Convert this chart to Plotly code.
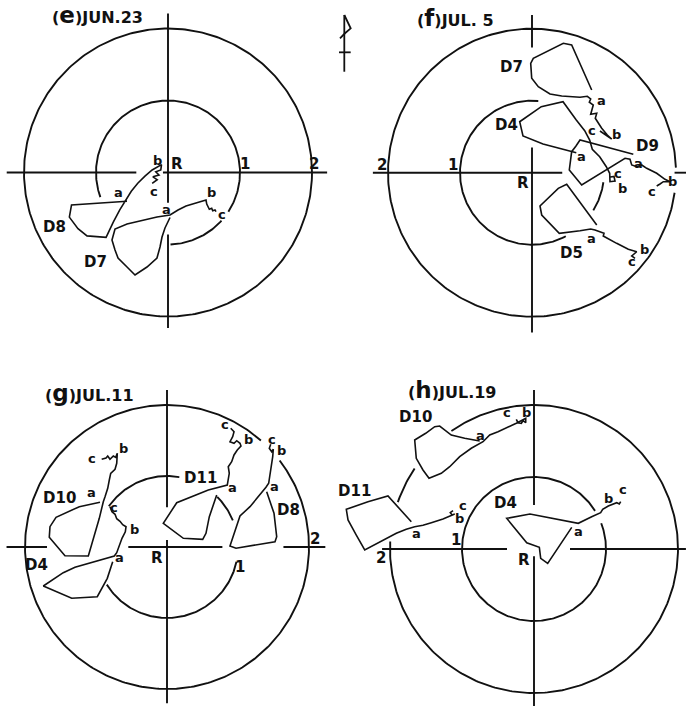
import numpy as np
import plotly.graph_objects as go

W, H = 686, 708
INK = "#111111"
FONT = "DejaVu Sans"

# ---------------- (e) JUN.23 ----------------
E_D8_X = [-0.22, -0.15, -0.21, -0.125, -0.17, -0.10, -0.09, -0.22, -0.32, -0.42, -0.51, -0.58,
          -0.67, -0.76, -0.86, -1.125, -1.25, -1.37, -1.34, -0.57]
E_D8_Y = [-0.15, -0.10, -0.06, -0.035, 0.01, 0.035, 0.11, 0.035, -0.05, -0.15, -0.26, -0.37,
          -0.52, -0.69, -0.90, -0.88, -0.78, -0.62, -0.45, -0.40]
E_D7_X = [0.667, 0.653, 0.621, 0.607, 0.574, 0.56, 0.538, 0.528, 0.389, 0.25, 0.139, 0.028,
          -0.153, -0.347, -0.569, -0.736, -0.778, -0.736, -0.694, -0.569, -0.458, -0.292,
          -0.153, -0.111, -0.083, -0.042, 0.028]
E_D7_Y = [-0.544, -0.521, -0.531, -0.497, -0.511, -0.475, -0.438, -0.382, -0.424, -0.465,
          -0.521, -0.59, -0.618, -0.66, -0.715, -0.785, -0.938, -1.076, -1.188, -1.313,
          -1.424, -1.313, -1.188, -1.035, -0.896, -0.77, -0.625]
E_LABELS = ["D8", "a", "b", "c", "D7", "a", "b", "c", "R", "1", "2"]
E_LX = [-1.57, -0.69, -0.14, -0.19, -1.01, -0.02, 0.61, 0.75, 0.125, 1.07, 2.03]
E_LY = [-0.76, -0.28, 0.17, -0.27, -1.24, -0.51, -0.28, -0.58, 0.12, 0.12, 0.12]

# ---------------- (f) JUL. 5 ----------------
F_D7_X = [0.829, 0.551, 0.435, 0.018, -0.018, -0.004, 0.0875, 0.25, 0.4125, 0.667, 0.768,
          0.815, 0.796, 0.851, 0.815, 0.899, 0.879, 0.968, 1.046, 1.107, 0.944]
F_D7_Y = [1.149, 1.774, 1.797, 1.589, 1.519, 1.311, 1.194, 1.093, 1.065, 1.047, 1.061,
          1.024, 0.978, 0.940, 0.811, 0.825, 0.756, 0.617, 0.524, 0.468, 0.579]
F_D4_X = [0.615, 0.3375, 0.153, -0.125, -0.171, 0.129, 0.431, 0.615, 0.732, 0.801, 0.8375,
          0.940, 1.032, 1.079, 1.083, 1.153, 1.139, 1.09]
F_D4_Y = [0.278, 0.353, 0.399, 0.51, 0.708, 0.917, 0.986, 0.732, 0.583, 0.454, 0.325,
          0.222, 0.083, -0.008, -0.125, -0.115, -0.053, -0.06]
F_D9_X = [1.407, 0.667, 0.611, 0.551, 0.518, 0.690, 1.292, 1.361, 1.385, 1.454, 1.524,
          1.593, 1.732, 1.847, 1.917, 1.824, 1.778, 1.732]
F_D9_Y = [0.256, 0.454, 0.371, 0.292, 0.0375, -0.171, 0.2, 0.186, 0.107, 0.083, 0.107,
          0.061, -0.008, -0.092, -0.125, -0.125, -0.157, -0.185]
F_D5_X = [0.899, 0.482, 0.365, 0.111, 0.135, 0.25, 0.379, 0.667, 0.815, 0.875, 0.935, 1.0,
          0.990, 1.046, 1.176, 1.3375, 1.454, 1.417, 1.385, 1.431]
F_D5_Y = [-0.726, -0.161, -0.217, -0.4625, -0.5875, -0.7125, -0.842, -0.806, -0.782, -0.796,
          -0.819, -0.842, -0.879, -0.911, -0.981, -1.064, -1.097, -1.129, -1.157, -1.189]
F_LABELS = ["D7", "a", "b", "c", "D4", "a", "c", "b", "D9", "a", "b", "c",
            "D5", "a", "b", "c", "R", "1", "2"]
F_LX = [-0.28, 0.97, 1.18, 0.84, -0.357, 0.69, 1.20, 1.26, 1.60, 1.48, 1.95, 1.66,
        0.55, 0.83, 1.56, 1.385, -0.125, -1.10, -2.09]
F_LY = [1.47, 1.00, 0.53, 0.58, 0.6625, 0.22, -0.01, -0.22, 0.37, 0.13, -0.125, -0.26,
        -1.12, -0.91, -1.06, -1.24, -0.14, 0.11, 0.11]

# ---------------- (g) JUL.11 ----------------
G_D10_X = [-0.92, -0.859, -0.835, -0.803, -0.756, -0.7225, -0.7, -0.708, -0.732, -0.793,
           -0.8125, -0.835, -0.873, -0.897, -0.9535, -1.028, -1.108, -1.437, -1.658, -1.648,
           -1.563, -1.235, -0.944]
G_D10_Y = [1.235, 1.254, 1.282, 1.235, 1.282, 1.263, 1.32, 1.179, 1.094, 1.038, 0.944,
           0.827, 0.708, 0.638, 0.404, 0.145, -0.127, -0.1225, 0.137, 0.286, 0.418, 0.568,
           0.630]
G_D4_X = [-0.803, -0.775, -0.732, -0.708, -0.662, -0.624, -0.577, -0.587, -0.634, -0.672,
          -0.708, -0.742, -0.990, -1.296, -1.461, -1.742, -1.342, -0.982, -0.841, -0.765]
G_D4_Y = [0.568, 0.497, 0.461, 0.399, 0.362, 0.314, 0.286, 0.215, 0.1225, 0.028, -0.080,
          -0.127, -0.197, -0.286, -0.362, -0.549, -0.7225, -0.700, -0.441, -0.207]
G_D11_X = [0.897, 0.944, 0.925, 0.887, 0.944, 0.982, 1.028, 1.042, 0.990, 0.944, 0.911,
           0.863, 0.877, 0.855, 0.849, 0.582, 0.137, -0.052, 0.230, 0.503, 0.549, 0.596,
           0.652, 0.700]
G_D11_Y = [1.672, 1.624, 1.554, 1.483, 1.461, 1.497, 1.461, 1.4225, 1.366, 1.296, 1.201,
           1.131, 1.038, 0.944, 0.873, 0.803, 0.624, 0.334, 0.1225, 0.108, 0.193, 0.427,
           0.592, 0.732]
G_D8_X = [1.461, 1.441, 1.475, 1.497, 1.489, 1.465, 1.451, 1.432, 1.394, 1.169, 1.028,
          0.958, 0.887, 0.972, 1.521, 1.545, 1.507, 1.404]
G_D8_Y = [1.446, 1.390, 1.342, 1.376, 1.272, 1.131, 1.014, 0.897, 0.841, 0.568, 0.437,
          0.239, 0.014, -0.018, 0.075, 0.145, 0.475, 0.779]
G_LABELS = ["D10", "a", "b", "c", "D4", "a", "b", "c", "D11", "a", "b", "c",
            "D8", "a", "b", "c", "R", "1", "2"]
G_LX = [-1.52, -1.06, -0.615, -1.05, -1.835, -0.67, -0.46, -0.74, 0.465, 0.925, 1.145, 0.82,
        1.71, 1.52, 1.61, 1.475, -0.145, 1.03, 2.08]
G_LY = [0.69, 0.765, 1.39, 1.25, -0.25, -0.145, 0.25, 0.56, 0.97, 0.84, 1.51, 1.72,
        0.52, 0.85, 1.36, 1.52, -0.16, -0.28, 0.11]

# ---------------- (h) JUL.19 ----------------
H_D10_X = [-0.246, -0.222, -0.176, -0.153, -0.115, -0.115, -0.246, -0.361, -0.5, -0.615,
           -0.708, -0.871, -1.032, -1.171, -1.2875, -1.458, -1.542, -1.635, -1.657, -1.504,
           -1.379, -1.310, -1.240, -1.149, -0.9625, -0.754]
H_D10_Y = [1.801, 1.754, 1.746, 1.782, 1.754, 1.815, 1.746, 1.690, 1.629, 1.583, 1.490,
           1.399, 1.282, 1.143, 1.051, 0.982, 1.097, 1.260, 1.514, 1.607, 1.699, 1.708,
           1.653, 1.583, 1.5375, 1.5]
H_D11_X = [-1.125, -1.1625, -1.135, -1.101, -1.264, -1.426, -1.542, -1.657, -1.774, -1.9125,
           -2.143, -2.351, -2.468, -2.583, -2.607, -2.306, -2.028, -1.889, -1.704]
H_D11_Y = [0.532, 0.504, 0.472, 0.486, 0.417, 0.365, 0.329, 0.310, 0.274, 0.218, 0.101,
           -0.014, 0.194, 0.403, 0.551, 0.657, 0.736, 0.5875, 0.379]
H_D4_X = [1.204, 1.185, 1.149, 1.101, 1.032, 0.954, 0.926, 0.801, 0.615, -0.056, -0.379,
          -0.101, -0.046, 0.074, 0.093, 0.190, 0.524]
H_D4_Y = [0.657, 0.625, 0.643, 0.625, 0.597, 0.551, 0.504, 0.449, 0.357, 0.486, 0.426,
          0.0875, 0.069, 0.024, -0.129, -0.199, 0.301]
H_LABELS = ["D10", "a", "b", "c", "D11", "a", "b", "c", "D4", "a", "b", "c", "R", "1", "2"]
H_LX = [-1.65, -0.745, -0.11, -0.37, -2.49, -1.635, -1.03, -0.99, -0.40, 0.615, 1.03, 1.23,
        -0.14, -1.08, -2.12]
H_LY = [1.84, 1.57, 1.89, 1.89, 0.81, 0.22, 0.42, 0.60, 0.635, 0.24, 0.70, 0.82,
        -0.15, 0.125, -0.13]

# panel layout: pixel position of R, pixels per unit radius, ring arcs (deg), axis segments
PANELS = [
    dict(letter="e", date="JUN.23", center=(168, 172.5), scale=72, title_at=(-1.64, 2.19),
         tracks=[(E_D8_X, E_D8_Y), (E_D7_X, E_D7_Y)], labels=(E_LABELS, E_LX, E_LY),
         outer=[(0, 360)], inner=[(-88, -42), (-33, 200)],
         hseg=[(-2.24, -0.44), (-0.07, 2.21)], vseg=[(2.21, -0.42), (-0.86, -2.16)]),
    dict(letter="f", date="JUL. 5", center=(532, 172.7), scale=72, title_at=(-1.625, 2.15),
         tracks=[(F_D7_X, F_D7_Y), (F_D4_X, F_D4_Y), (F_D9_X, F_D9_Y), (F_D5_X, F_D5_Y)],
         labels=(F_LABELS, F_LX, F_LY),
         outer=[(2, 352)], inner=[(85, 298), (328.4, 352.4)],
         hseg=[(-2.21, 0.42), (1.98, 2.2)], vseg=[(2.19, 1.74), (0.35, -2.22)]),
    dict(letter="g", date="JUL.11", center=(167, 547), scale=71, title_at=(-1.75, 2.17),
         tracks=[(G_D10_X, G_D10_Y), (G_D4_X, G_D4_Y), (G_D11_X, G_D11_Y), (G_D8_X, G_D8_Y)],
         labels=(G_LABELS, G_LX, G_LY),
         outer=[(48.6, 397.5)], inner=[(80, 145), (22, 45), (-148, -12)],
         hseg=[(-2.26, -1.69), (-0.545, 0.78), (1.64, 2.23)], vseg=[(2.21, 0.56), (0.1, -2.2)]),
    dict(letter="h", date="JUL.19", center=(534, 549), scale=72, title_at=(-1.78, 2.21),
         tracks=[(H_D10_X, H_D10_Y), (H_D11_X, H_D11_Y), (H_D4_X, H_D4_Y)],
         labels=(H_LABELS, H_LX, H_LY),
         outer=[(-183, 125), (146, 161)], inner=[(32, 381)],
         hseg=[(-2.11, -0.375), (0.5, 2.11)], vseg=[(2.21, 0.61), (-0.1, -2.18)]),
]


def arc_xy(radius, arcs):
    xs, ys = [], []
    for a0, a1 in arcs:
        t = np.radians(np.linspace(a0, a1, max(8, int(abs(a1 - a0)))))
        xs += list(radius * np.cos(t)) + [None]
        ys += list(radius * np.sin(t)) + [None]
    return xs, ys


fig = go.Figure()
annotations = []
layout_axes = {}

for i, p in enumerate(PANELS):
    n = "" if i == 0 else str(i + 1)
    xa, ya = "x" + n, "y" + n
    cx, cy = p["center"]
    s = p["scale"]
    layout_axes["xaxis" + n] = dict(range=[-cx / s, (W - cx) / s], domain=[0, 1],
                                    visible=False, fixedrange=True, anchor=ya)
    layout_axes["yaxis" + n] = dict(range=[(cy - H) / s, cy / s], domain=[0, 1],
                                    visible=False, fixedrange=True, anchor=xa)

    # rings at radius 1 and 2
    for r, arcs in ((2, p["outer"]), (1, p["inner"])):
        ax, ay = arc_xy(r, arcs)
        fig.add_trace(go.Scatter(x=ax, y=ay, mode="lines", xaxis=xa, yaxis=ya,
                                 line=dict(color=INK, width=1.9), hoverinfo="skip",
                                 showlegend=False))
    # cross-hair through R
    hx, hy = [], []
    for a, b in p["hseg"]:
        hx += [a, b, None]
        hy += [0, 0, None]
    for a, b in p["vseg"]:
        hx += [0, 0, None]
        hy += [a, b, None]
    fig.add_trace(go.Scatter(x=hx, y=hy, mode="lines", xaxis=xa, yaxis=ya,
                             line=dict(color=INK, width=1.9), hoverinfo="skip",
                             showlegend=False))
    # drifter tracks
    for tx, ty in p["tracks"]:
        fig.add_trace(go.Scatter(x=tx, y=ty, mode="lines", xaxis=xa, yaxis=ya,
                                 line=dict(color=INK, width=1.6), hoverinfo="skip",
                                 showlegend=False))
    # text labels
    txt, lx, ly = p["labels"]
    for t, x, y in zip(txt, lx, ly):
        big = t[0] in "DR12"
        annotations.append(dict(x=x, y=y, xref=xa, yref=ya, text="<b>%s</b>" % t,
                                showarrow=False,
                                font=dict(family=FONT, size=15 if big else 13, color=INK),
                                xanchor="center", yanchor="middle"))
    tx0, ty0 = p["title_at"]
    annotations.append(dict(
        x=tx0, y=ty0, xref=xa, yref=ya, showarrow=False, xanchor="left", yanchor="middle",
        text="<b>(<span style='font-size:23px'>%s</span>)%s</b>" % (p["letter"], p["date"]),
        font=dict(family=FONT, size=16, color=INK)))

# small wind-vane glyph between the upper panels (pixel outline)
VANE_PX = [(344.3, 15), (350.7, 28.3), (345, 33.3), (340, 38.3)]
STAFF_PX = [(344.3, 15), (344.3, 71.7)]
BAR_PX = [(339, 52.3), (350.7, 52.3)]


def to_paper(pts):
    return "M " + " L ".join("%.4f,%.4f" % (x / W, 1 - y / H) for x, y in pts)


shapes = [dict(type="path", path=to_paper(pts), xref="paper", yref="paper",
               line=dict(color=INK, width=1.8)) for pts in (VANE_PX, STAFF_PX, BAR_PX)]

fig.update_layout(width=W, height=H, margin=dict(l=0, r=0, t=0, b=0),
                  paper_bgcolor="white", plot_bgcolor="rgba(0,0,0,0)",
                  annotations=annotations, shapes=shapes, showlegend=False, **layout_axes)

fig.write_html("out.html")
